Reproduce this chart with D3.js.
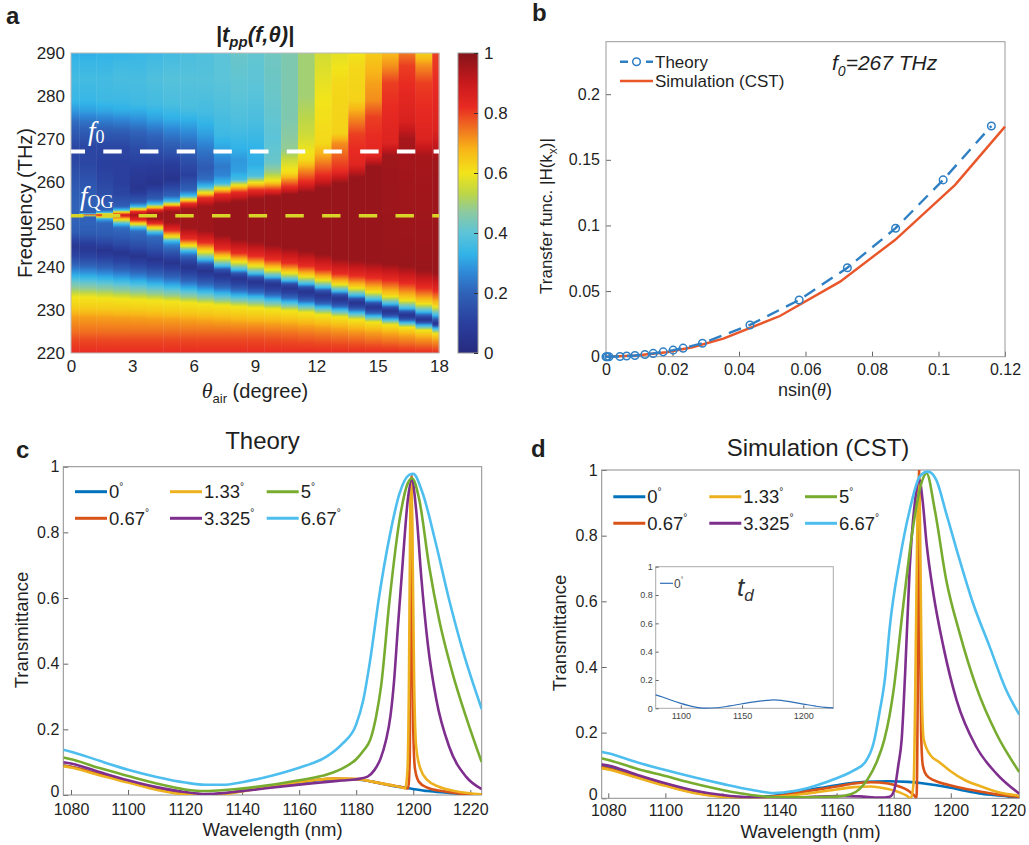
<!DOCTYPE html>
<meta charset="utf-8">
<title>Angle-dependent transmission</title>
<style>
body { margin: 0; background: #fff; }
text { font-family: "Liberation Sans", Arial, Helvetica, sans-serif; fill: #1f1f1f; }
</style>
<body>
<script src="https://cdnjs.cloudflare.com/ajax/libs/d3/7.8.5/d3.min.js"></script>
<script>
// ---------- panel a : |t_pp(f,theta)| ----------
var heatAngles = [0, 0.82, 1.64, 2.47, 3.29, 4.11, 4.93, 5.75, 6.58, 7.4, 8.22, 9.04,
                  9.86, 10.69, 11.51, 12.33, 13.15, 13.97, 14.8, 15.62, 16.44, 17.26, 18.08];
// one list of [frequency THz, |t|] read down each angle column
var heatProfiles = [
  [[220,.82],[223,.79],[225,.75],[228.5,.7],[230.5,.64],[233,.6],[234.7,.5],[236.5,.42],[238,.33],[240.2,.22],[242.5,.12],[244.8,.06],[246.5,.12],[248,.18],[250,.2],[254,.2],[258,.18],[262,.15],[265,.12],[268,.12],[271,.17],[274,.22],[276.5,.29],[279,.34],[284,.36],[288,.34],[290,.32]],
  [[220,.82],[223,.79],[225,.75],[228.5,.7],[230.5,.64],[233,.6],[234.6,.5],[236.3,.42],[237.8,.33],[240,.22],[242.3,.12],[244.5,.06],[246.2,.12],[247.8,.18],[250,.2],[251.8,.2],[252.2,.85],[252.6,.2],[256,.19],[260,.16],[264,.12],[268,.12],[271,.17],[274,.23],[276.5,.3],[279,.34],[284,.36],[288,.34],[290,.32]],
  [[220,.82],[223,.79],[225,.75],[228.4,.7],[230.4,.64],[232.8,.6],[234.4,.5],[236,.42],[237.5,.33],[239.6,.22],[241.8,.12],[244,.05],[245.7,.12],[247.5,.18],[250.4,.21],[251.3,.33],[252.2,.88],[252.8,.33],[253.4,.2],[256,.16],[260,.12],[264,.1],[268,.12],[271,.17],[274,.24],[276.5,.31],[279,.35],[284,.36],[288,.34],[290,.33]],
  [[220,.82],[223,.79],[225,.75],[228.3,.7],[230.3,.64],[232.6,.6],[234.1,.5],[235.7,.42],[237.1,.33],[239.1,.22],[241.2,.12],[243.3,.05],[245,.12],[247.2,.18],[249.2,.22],[250.1,.35],[251.1,.6],[252.2,.9],[252.9,.6],[253.4,.35],[254.2,.19],[257,.12],[260,.1],[264,.1],[268,.12],[271,.17],[274,.25],[276.5,.32],[279,.35],[284,.37],[288,.35],[290,.33]],
  [[220,.82],[223,.79],[225,.75],[228.2,.7],[230.2,.64],[232.4,.6],[233.8,.5],[235.3,.42],[236.7,.33],[238.6,.22],[240.6,.12],[242.6,.05],[244.3,.12],[246.5,.18],[248.4,.22],[249.2,.35],[250.1,.6],[251,.82],[252.2,.95],[253,.82],[253.6,.6],[254.2,.35],[255.2,.18],[258,.06],[261,.07],[264,.1],[268,.14],[271.5,.2],[275,.29],[278,.35],[283,.37],[288,.35],[290,.34]],
  [[220,.82],[223,.79],[225,.75],[228,.7],[230,.64],[232.2,.6],[233.5,.5],[234.9,.42],[236.2,.33],[238,.22],[240,.12],[241.8,.05],[243.5,.12],[245.5,.18],[247.2,.22],[248.1,.35],[249.1,.6],[250.2,.82],[251.3,.96],[252.6,.96],[253.4,.82],[254.1,.6],[254.8,.35],[256,.18],[259.5,.05],[263,.08],[267,.14],[271,.21],[274.5,.3],[278,.36],[284,.38],[290,.35]],
  [[220,.82],[223,.79],[225,.75],[227.9,.7],[229.8,.64],[232,.6],[233.2,.5],[234.5,.42],[235.7,.33],[237.4,.22],[239.3,.12],[241,.05],[242.6,.12],[244.2,.2],[245.2,.25],[246.1,.35],[247.1,.6],[248.6,.82],[250.5,.96],[253,.96],[254,.82],[254.7,.6],[255.5,.35],[256.7,.2],[260.5,.05],[264,.09],[267.5,.17],[271,.24],[274.5,.32],[278,.37],[284,.39],[290,.36]],
  [[220,.82],[223,.79],[225,.75],[227.7,.7],[229.6,.64],[231.7,.6],[232.8,.5],[234,.42],[235.1,.33],[236.6,.22],[238.4,.12],[240,.05],[241.5,.12],[242.8,.22],[243.8,.35],[245,.6],[246.6,.82],[249.2,.96],[253.6,.96],[254.9,.82],[255.8,.6],[256.7,.35],[258,.2],[261.5,.1],[265,.15],[269,.22],[273,.3],[277,.37],[284,.39],[290,.37]],
  [[220,.82],[223,.79],[225,.75],[227.5,.7],[229.4,.64],[231.4,.6],[232.4,.5],[233.5,.42],[234.5,.33],[235.9,.22],[237.6,.12],[239.1,.05],[240.5,.13],[241.8,.35],[243.8,.62],[245.8,.82],[248.5,.96],[254.2,.96],[256.2,.82],[257.3,.62],[258.8,.35],[260.5,.22],[263,.18],[267,.23],[271,.3],[276,.36],[283,.39],[290,.38]],
  [[220,.82],[223,.79],[225,.75],[227.3,.7],[229.2,.64],[231.1,.6],[232,.5],[233,.42],[234,.33],[235.2,.22],[236.8,.12],[238.2,.05],[239.4,.15],[240.3,.35],[242.3,.62],[244.2,.82],[247.5,.97],[254.8,.97],[257,.82],[258.3,.62],[259.6,.35],[261.5,.26],[263.5,.24],[267,.3],[271,.35],[278,.38],[284,.4],[290,.4]],
  [[220,.82],[223,.79],[225,.75],[227.1,.7],[229,.64],[230.8,.6],[231.7,.5],[232.6,.42],[233.5,.33],[234.6,.22],[236,.12],[237.3,.05],[238.5,.15],[239.4,.35],[241.4,.62],[243.3,.82],[246.5,.97],[255.3,.97],[257.5,.82],[259,.62],[260.5,.36],[262.5,.3],[265,.29],[268,.33],[273,.37],[280,.4],[290,.42]],
  [[220,.82],[223,.79],[225,.75],[227,.7],[228.8,.64],[230.5,.6],[231.4,.5],[232.3,.42],[233.2,.33],[234.1,.22],[235.3,.12],[236.6,.05],[237.6,.15],[238.5,.35],[240.5,.62],[242.6,.82],[246,.97],[256,.97],[258,.82],[259.6,.62],[261.3,.38],[264,.32],[268,.33],[274,.37],[282,.4],[290,.41]],
  [[220,.82],[222.8,.79],[224.8,.75],[226.8,.7],[228.6,.64],[230.2,.6],[231,.5],[231.8,.42],[232.6,.33],[233.5,.22],[234.6,.12],[235.9,.05],[236.9,.15],[237.7,.35],[239.6,.62],[241.8,.82],[245.2,.97],[256.5,.97],[258,.82],[259,.72],[260,.62],[262,.5],[264.5,.42],[270,.4],[280,.42],[290,.43]],
  [[220,.82],[222.6,.79],[224.6,.75],[226.6,.7],[228.3,.64],[229.8,.6],[230.6,.5],[231.3,.42],[232,.33],[232.8,.22],[233.9,.12],[235.1,.05],[236.1,.15],[236.9,.35],[238.8,.62],[241,.82],[244.5,.97],[257,.97],[258.8,.82],[260.4,.72],[261.9,.62],[265,.55],[267.4,.48],[275,.45],[290,.45]],
  [[220,.82],[222.4,.79],[224.3,.75],[226.3,.7],[228,.64],[229.4,.6],[230.1,.5],[230.8,.42],[231.4,.33],[232.1,.22],[233.1,.12],[234.3,.05],[235.3,.15],[236.1,.35],[238,.62],[240.3,.82],[243.8,.97],[257.5,.97],[260,.82],[262.7,.72],[265,.62],[271.3,.55],[280,.5],[290,.5]],
  [[220,.82],[222.2,.79],[224,.75],[226,.7],[227.6,.64],[228.9,.6],[229.6,.5],[230.2,.42],[230.8,.33],[231.4,.22],[232.3,.12],[233.5,.05],[234.5,.15],[235.3,.35],[237.2,.62],[239.5,.82],[243,.97],[258.5,.97],[261.5,.82],[265,.72],[268.9,.62],[279,.6],[290,.56]],
  [[220,.82],[222,.79],[223.7,.75],[225.6,.7],[227.2,.64],[228.4,.6],[229,.5],[229.6,.42],[230.2,.33],[230.8,.22],[231.6,.12],[232.7,.05],[233.6,.15],[234.4,.35],[236.2,.62],[238.5,.82],[242,.97],[259.6,.97],[262.5,.82],[268.9,.72],[271.3,.63],[283,.62],[290,.58]],
  [[220,.82],[221.8,.79],[223.4,.75],[225.2,.7],[226.7,.64],[227.8,.6],[228.4,.5],[229,.42],[229.5,.33],[230.1,.22],[230.8,.12],[231.7,.05],[232.6,.15],[233.4,.35],[235.3,.62],[238,.82],[241.6,.97],[261,.97],[264,.84],[271,.8],[275,.72],[279,.63],[287,.62],[290,.6]],
  [[220,.82],[221.6,.79],[223,.75],[224.8,.7],[226.2,.64],[227.2,.6],[227.7,.5],[228.2,.42],[228.7,.33],[229.2,.22],[229.9,.12],[230.7,.05],[231.6,.15],[232.4,.35],[234.4,.62],[237.5,.82],[241.2,.97],[263.5,.97],[266,.84],[275,.8],[279,.72],[283,.7],[290,.64]],
  [[220,.82],[221.4,.79],[222.7,.75],[224.4,.7],[225.7,.64],[226.6,.6],[227.1,.5],[227.5,.42],[227.9,.33],[228.4,.22],[229,.12],[229.8,.05],[230.6,.15],[231.4,.35],[233.4,.62],[237,.82],[240.8,.97],[266,.96],[269,.85],[283,.8],[286.8,.72],[290,.67]],
  [[220,.82],[221.2,.79],[222.4,.75],[224,.7],[225.2,.64],[226,.6],[226.4,.5],[226.8,.42],[227.2,.33],[227.6,.22],[228.1,.12],[228.8,.05],[229.6,.15],[230.4,.35],[232.5,.62],[236.3,.82],[240.2,.97],[270,.95],[274,.86],[287,.8],[290,.74]],
  [[220,.82],[221,.79],[222.1,.75],[223.5,.7],[224.6,.64],[225.3,.6],[225.7,.5],[226.1,.42],[226.5,.33],[226.9,.22],[227.3,.12],[227.8,.05],[228.6,.15],[229.6,.35],[231.7,.62],[235.2,.82],[239.3,.97],[266,.95],[270,.85],[283,.8],[287,.72],[290,.63]],
  [[220,.82],[220.8,.79],[221.8,.75],[223,.7],[224,.64],[224.6,.6],[225,.5],[225.4,.42],[225.8,.33],[226.2,.22],[226.5,.12],[226.9,.05],[227.7,.15],[228.8,.35],[231,.62],[234.5,.82],[238.8,.97],[265,.96],[272,.85],[290,.8]]
];
var freqTicks = [220, 230, 240, 250, 260, 270, 280, 290];
var angleTicks = [0, 3, 6, 9, 12, 15, 18];
var cbarTicks = [0, 0.2, 0.4, 0.6, 0.8, 1];
var cmapStops = [0, 0.1, 0.2, 0.27, 0.33, 0.4, 0.47, 0.53, 0.6, 0.68, 0.75, 0.82, 0.9, 1];
var cmapColors = ["#262a7e", "#2a3f9e", "#2f62b8", "#2f8ad8", "#32b4e8", "#5cc4d8", "#8ccaa0",
                  "#bcd648", "#f2e41a", "#f8b418", "#f07020", "#e82a22", "#c8191c", "#84141a"];
var f0 = 267, fQG = 252;

// ---------- panel b : transfer function ----------
var nsinTheory = [0, 0.0004, 0.0009, 0.0042, 0.0062, 0.0087, 0.0117, 0.0142, 0.0172, 0.0202, 0.0232, 0.029, 0.0433, 0.0581, 0.0726, 0.0871, 0.1014, 0.1159];
var hTheory    = [0, 0, 0, 0.0002, 0.0005, 0.0009, 0.0017, 0.0025, 0.0037, 0.005, 0.0065, 0.0103, 0.0242, 0.0432, 0.0678, 0.0979, 0.1347, 0.1758];
var nsinSim = [0, 0.009, 0.0182, 0.026, 0.0353, 0.0523, 0.0704, 0.0869, 0.105, 0.12];
var hSim    = [0, 0.0009, 0.0034, 0.0072, 0.0138, 0.031, 0.0572, 0.0889, 0.1309, 0.1753];
var nsinTicks = [0, 0.02, 0.04, 0.06, 0.08, 0.1, 0.12];
var hTicks = [0, 0.05, 0.1, 0.15, 0.2];

// ---------- panels c, d : transmittance spectra ----------
var angleLabels = ["0", "0.67", "1.33", "3.325", "5", "6.67"];
var angleColors = ["#0072bd", "#d95319", "#edb120", "#7e2f8e", "#77ac30", "#4dbeee"];
var wlTicks = [1080, 1100, 1120, 1140, 1160, 1180, 1200, 1220];
var transTicks = [0, 0.2, 0.4, 0.6, 0.8, 1];

var theory0 = [[1077.3,.09],[1080,.086],[1090,.063],[1100,.041],[1110,.019],[1120,.005],[1127,.001],[1135,.006],[1145,.02],[1155,.033],[1165,.043],[1172,.048],[1180,.047],[1186,.04],[1192,.029],[1199,.02],[1205,.012],[1212,.007],[1218,.003],[1224,.001]];
var theory067 = [[1077.3,.09],[1080,.086],[1090,.063],[1100,.041],[1110,.019],[1120,.005],[1127,.001],[1135,.006],[1145,.02],[1155,.034],[1165,.045],[1172,.05],[1180,.048],[1186,.04],[1192,.03],[1196,.024],[1198.2,.02],[1198.8,.12],[1199.2,.7],[1199.4,.97],[1199.6,.7],[1200,.2],[1200.6,.08],[1202,.04],[1205,.022],[1210,.012],[1216,.005],[1224,.001]];
var theory133 = [[1077.3,.088],[1080,.084],[1090,.06],[1100,.038],[1110,.016],[1120,.002],[1127,0],[1135,.004],[1145,.018],[1155,.033],[1165,.045],[1172,.05],[1180,.049],[1186,.04],[1192,.03],[1196,.023],[1197.2,.02],[1198,.08],[1198.5,.35],[1199,.9],[1199.3,.95],[1199.7,.8],[1200.3,.35],[1201,.15],[1202.5,.08],[1205,.045],[1209,.025],[1214,.013],[1219,.006],[1224,.002]];
var theory3325 = [[1077.3,.1],[1080,.096],[1090,.07],[1100,.045],[1110,.024],[1120,.009],[1127,.003],[1135,.007],[1145,.017],[1155,.027],[1165,.036],[1175,.044],[1180,.048],[1184,.056],[1186.3,.075],[1188.5,.11],[1190.4,.165],[1192,.24],[1193.3,.35],[1194.6,.51],[1196.4,.72],[1198.1,.9],[1199.5,.96],[1201,.87],[1202.8,.665],[1205.1,.46],[1208.1,.29],[1212.6,.147],[1218.5,.056],[1224,.018]];
var theory5 = [[1077.3,.114],[1080,.109],[1090,.082],[1100,.058],[1110,.035],[1120,.017],[1127,.012],[1135,.016],[1145,.025],[1160,.045],[1170,.063],[1176,.085],[1180,.109],[1182.5,.135],[1185,.17],[1187,.24],[1188.7,.33],[1191.7,.594],[1195.2,.838],[1198.1,.95],[1199.6,.965],[1202.1,.9],[1205.6,.695],[1209.1,.533],[1213.8,.37],[1218.5,.238],[1224,.1]];
var theory667 = [[1077.3,.138],[1080,.132],[1090,.104],[1100,.077],[1110,.055],[1120,.038],[1127,.031],[1133,.031],[1140,.039],[1150,.058],[1160,.083],[1170,.119],[1175,.155],[1180,.215],[1182.5,.29],[1184.7,.4],[1188.2,.614],[1191.7,.787],[1195.2,.919],[1198.6,.975],[1200,.978],[1203.3,.919],[1207.9,.767],[1212.6,.594],[1217.3,.442],[1224,.262]];

var sim0 = [[1077.5,.098],[1080,.094],[1090,.068],[1100,.041],[1110,.02],[1120,.007],[1128,.002],[1135,.005],[1140,.01],[1150,.025],[1160,.04],[1170,.05],[1178,.052],[1185,.05],[1190,.046],[1195,.04],[1200,.032],[1205,.023],[1210,.015],[1215,.01],[1220,.006],[1224,.004]];
var sim067 = [[1077.5,.095],[1080,.091],[1090,.065],[1100,.04],[1110,.018],[1120,.006],[1130,.001],[1140,.008],[1150,.022],[1160,.036],[1166,.045],[1172,.049],[1178,.045],[1182,.036],[1185,.024],[1187,.01],[1188,.002],[1188.4,.3],[1188.7,.8],[1188.9,1],[1189.2,.6],[1189.6,.2],[1190.2,.1],[1191.5,.07],[1194,.055],[1199,.041],[1205,.029],[1210.6,.02],[1216,.012],[1224,.005]];
var sim133 = [[1077.5,.092],[1080,.088],[1090,.063],[1100,.038],[1110,.016],[1120,.004],[1130,0],[1140,.005],[1150,.015],[1160,.027],[1166,.034],[1172,.036],[1178,.028],[1182,.018],[1184.5,.008],[1186,0],[1187,.05],[1187.8,.5],[1188.4,.9],[1188.9,.98],[1189.4,.7],[1189.9,.3],[1190.5,.18],[1193,.13],[1196,.11],[1199.7,.084],[1205,.055],[1210.6,.036],[1216,.02],[1224,.008]];
var sim3325 = [[1077.5,.104],[1080,.1],[1090,.072],[1100,.046],[1110,.024],[1120,.01],[1130,.003],[1140,.002],[1150,.004],[1160,.007],[1168,.006],[1175,.002],[1178.6,.005],[1180.2,.025],[1181.6,.1],[1182.8,.18],[1184,.38],[1185.6,.7],[1187.4,.9],[1189,.97],[1190.1,.909],[1191.5,.777],[1193.9,.624],[1197.4,.462],[1202,.3],[1208.9,.157],[1215.9,.076],[1224,.014]];
var sim5 = [[1077.5,.122],[1080,.117],[1090,.09],[1100,.068],[1110,.045],[1120,.025],[1130,.01],[1140,.003],[1150,.003],[1160,.005],[1165,.012],[1168,.028],[1171,.06],[1174,.11],[1176.7,.178],[1178.5,.25],[1179.8,.32],[1183.3,.584],[1186.8,.827],[1189.7,.96],[1191.5,.99],[1194.4,.878],[1198.4,.665],[1203.1,.503],[1208.9,.34],[1215.9,.198],[1224,.08]];
var sim667 = [[1077.5,.142],[1080,.137],[1090,.11],[1100,.086],[1110,.064],[1120,.044],[1130,.026],[1138,.016],[1145,.022],[1152,.037],[1160,.061],[1166,.085],[1170,.11],[1173,.17],[1175,.26],[1177,.37],[1178.6,.52],[1182.1,.726],[1185.6,.878],[1189.1,.98],[1192,.995],[1194.9,.97],[1198.4,.868],[1203.1,.726],[1207.8,.594],[1213.6,.462],[1219.4,.33],[1224,.255]];
var simDirect0 = [[1079.5,.095],[1085,.08],[1090,.064],[1100,.035],[1110,.012],[1120,.001],[1130,.004],[1140,.017],[1150,.032],[1160,.046],[1170,.056],[1176,.059],[1182,.056],[1190,.045],[1200,.03],[1210,.015],[1218,.006],[1224.5,.003]];
var insetXTicks = [1100, 1150, 1200];

var svg = d3.select("body").append("svg").attr("width", 1029).attr("height", 845);
var defs = svg.append("defs");
var cmap = d3.scaleLinear().domain(cmapStops).range(cmapColors).clamp(true);

function panelLabel(t, x, y) {
  svg.append("text").attr("x", x).attr("y", y).attr("font-size", 24).attr("font-weight", "bold").text(t);
}
function styleAxis(g, fs) {
  g.select(".domain").remove();
  g.selectAll(".tick line").attr("stroke", "#666");
  g.selectAll(".tick text").attr("font-size", fs);
}

// ===== panel a =====
var ax = d3.scaleLinear().domain([0, 18]).range([71, 439]);
var ay = d3.scaleLinear().domain([220, 290]).range([353, 53]);
var heat = svg.append("g");
heatProfiles.forEach(function(prof, i) {
  var s = d3.scaleLinear().domain(prof.map(function(d) { return d[0]; })).range(prof.map(function(d) { return d[1]; }));
  var grad = defs.append("linearGradient").attr("id", "hc" + i)
      .attr("gradientUnits", "userSpaceOnUse").attr("x1", 0).attr("x2", 0).attr("y1", ay(220)).attr("y2", ay(290));
  grad.selectAll("stop").data(d3.range(220, 290.001, 0.25)).enter().append("stop")
      .attr("offset", function(f) { return (f - 220) / 70; })
      .attr("stop-color", function(f) { return cmap(s(f)); });
  var a = heatAngles[i];
  var lo = i === 0 ? a : (heatAngles[i - 1] + a) / 2;
  var hi = i === heatAngles.length - 1 ? a : (a + heatAngles[i + 1]) / 2;
  lo = Math.max(0, lo); hi = Math.min(18, hi);
  heat.append("rect").attr("x", ax(lo)).attr("width", ax(hi) - ax(lo) + 0.4)
      .attr("y", ay(290)).attr("height", ay(220) - ay(290)).attr("fill", "url(#hc" + i + ")");
});
svg.append("rect").attr("x", 71).attr("y", 53).attr("width", 368).attr("height", 300)
    .attr("fill", "none").attr("stroke", "#bbb");
svg.append("line").attr("x1", ax(0)).attr("x2", ax(18)).attr("y1", ay(f0)).attr("y2", ay(f0))
    .attr("stroke", "#fff").attr("stroke-width", 4).attr("stroke-dasharray", "18.4,18.3").attr("stroke-dashoffset", 4.4);
svg.append("line").attr("x1", ax(0)).attr("x2", ax(18)).attr("y1", ay(fQG)).attr("y2", ay(fQG))
    .attr("stroke", "#d9d428").attr("stroke-width", 3.5).attr("stroke-dasharray", "18.4,18.3").attr("stroke-dashoffset", 5.8);
var fl = svg.append("text").attr("x", 88).attr("y", 140).style("font-family", "'Liberation Serif', serif").style("fill", "#fff");
fl.append("tspan").attr("font-size", 27).attr("font-style", "italic").text("f");
fl.append("tspan").attr("font-size", 18).attr("dy", 3).text("0");
var fq = svg.append("text").attr("x", 80).attr("y", 205).style("font-family", "'Liberation Serif', serif").style("fill", "#fff");
fq.append("tspan").attr("font-size", 27).attr("font-style", "italic").text("f");
fq.append("tspan").attr("font-size", 18).attr("dy", 3).text("QG");

var gay = svg.append("g").attr("transform", "translate(71,0)")
    .call(d3.axisLeft(ay).tickValues(freqTicks).tickSize(0).tickPadding(6));
styleAxis(gay, 17);
var gax = svg.append("g").attr("transform", "translate(0,353)")
    .call(d3.axisBottom(ax).tickValues(angleTicks).tickSize(0).tickPadding(7));
styleAxis(gax, 17);
svg.append("text").attr("transform", "translate(32,203) rotate(-90)").attr("text-anchor", "middle")
    .attr("font-size", 20).text("Frequency (THz)");
var xl = svg.append("text").attr("x", 255).attr("y", 398).attr("text-anchor", "middle").attr("font-size", 20);
xl.append("tspan").style("font-family", "'Liberation Serif', serif").attr("font-style", "italic").attr("font-size", 22).text("θ");
xl.append("tspan").attr("font-size", 13).attr("dy", 5).text("air");
xl.append("tspan").attr("dy", -5).text(" (degree)");
var ttl = svg.append("text").attr("x", 255).attr("y", 42).attr("text-anchor", "middle")
    .attr("font-size", 22).attr("font-weight", "bold").attr("font-style", "italic");
ttl.append("tspan").text("|t");
ttl.append("tspan").attr("font-size", 15).attr("dy", 5).text("pp");
ttl.append("tspan").attr("dy", -5).text("(f,θ)|");

// colorbar
var cy = d3.scaleLinear().domain([0, 1]).range([353, 53]);
var cg = defs.append("linearGradient").attr("id", "cbar").attr("x1", 0).attr("x2", 0).attr("y1", 1).attr("y2", 0);
cg.selectAll("stop").data(cmapStops).enter().append("stop")
    .attr("offset", function(d) { return d; }).attr("stop-color", function(d, i) { return cmapColors[i]; });
svg.append("rect").attr("x", 458).attr("y", 53).attr("width", 20).attr("height", 300)
    .attr("fill", "url(#cbar)").attr("stroke", "#999");
var gcb = svg.append("g").attr("transform", "translate(478,0)")
    .call(d3.axisRight(cy).tickValues(cbarTicks).tickFormat(d3.format("~g")).tickSizeInner(-4).tickSizeOuter(0).tickPadding(6));
styleAxis(gcb, 17);
gcb.selectAll(".tick line").attr("stroke", "#333");
panelLabel("a", 6, 24);

// ===== panel b =====
var bx = d3.scaleLinear().domain([0, 0.12]).range([606, 1005]);
var by = d3.scaleLinear().domain([0, 0.24]).range([356.7, 41.7]);
var gbx = svg.append("g").attr("transform", "translate(0,356.7)")
    .call(d3.axisBottom(bx).tickValues(nsinTicks).tickFormat(d3.format("~g")).tickSizeInner(-5).tickSizeOuter(0).tickPadding(7));
styleAxis(gbx, 16);
var gby = svg.append("g").attr("transform", "translate(606,0)")
    .call(d3.axisLeft(by).tickValues(hTicks).tickFormat(d3.format("~g")).tickSizeInner(-5).tickSizeOuter(0).tickPadding(6));
styleAxis(gby, 16);
svg.append("rect").attr("x", 606).attr("y", 41.7).attr("width", 399).attr("height", 315)
    .attr("fill", "none").attr("stroke", "#999");
var simPts = nsinSim.map(function(v, i) { return [v, hSim[i]]; });
var thPts = nsinTheory.map(function(v, i) { return [v, hTheory[i]]; });
var bline = d3.line().x(function(d) { return bx(d[0]); }).y(function(d) { return by(d[1]); });
svg.append("path").attr("d", bline(simPts)).attr("fill", "none").attr("stroke", "#e8562a").attr("stroke-width", 2.4);
svg.append("path").attr("d", bline(thPts)).attr("fill", "none").attr("stroke", "#2f7fc4")
    .attr("stroke-width", 2.4).attr("stroke-dasharray", "13,8");
svg.append("g").selectAll("circle").data(thPts).enter().append("circle")
    .attr("cx", function(d) { return bx(d[0]); }).attr("cy", function(d) { return by(d[1]); }).attr("r", 3.8)
    .attr("fill", "none").attr("stroke", "#2f7fc4").attr("stroke-width", 1.5);
svg.append("line").attr("x1", 620).attr("x2", 653).attr("y1", 61.7).attr("y2", 61.7)
    .attr("stroke", "#2f7fc4").attr("stroke-width", 2.4).attr("stroke-dasharray", "8,5");
svg.append("circle").attr("cx", 636.5).attr("cy", 61.7).attr("r", 3.8).attr("fill", "#fff").attr("stroke", "#2f7fc4").attr("stroke-width", 1.5);
svg.append("text").attr("x", 655).attr("y", 67.7).attr("font-size", 17).text("Theory");
svg.append("line").attr("x1", 620).attr("x2", 653).attr("y1", 81).attr("y2", 81).attr("stroke", "#e8562a").attr("stroke-width", 2.4);
svg.append("text").attr("x", 655).attr("y", 87).attr("font-size", 17).text("Simulation (CST)");
var fz = svg.append("text").attr("x", 832).attr("y", 70).attr("font-size", 21).attr("font-style", "italic");
fz.append("tspan").text("f");
fz.append("tspan").attr("font-size", 14).attr("dy", 6).text("0");
fz.append("tspan").attr("dy", -6).text("=267 THz");
var byl = svg.append("text").attr("transform", "translate(552,216) rotate(-90)").attr("text-anchor", "middle").attr("font-size", 17);
byl.append("tspan").text("Transfer func. |H(k");
byl.append("tspan").attr("font-size", 12).attr("dy", 5).text("x");
byl.append("tspan").attr("dy", -5).text(")|");
var bxl = svg.append("text").attr("x", 805).attr("y", 396).attr("text-anchor", "middle").attr("font-size", 18);
bxl.append("tspan").text("nsin(");
bxl.append("tspan").style("font-family", "'Liberation Serif', serif").attr("font-style", "italic").text("θ");
bxl.append("tspan").text(")");
panelLabel("b", 532, 21);

// ===== panels c, d =====
function degLabel(t, lab, fs) {
  t.append("tspan").text(lab);
  t.append("tspan").attr("font-size", fs * 0.55).attr("dy", -fs * 0.45).text("°");
}
function spectra(p) {
  var x = d3.scaleLinear().domain(p.wl).range([p.l, p.r]);
  var y = d3.scaleLinear().domain([0, 1]).range([p.b, p.t]);
  defs.append("clipPath").attr("id", p.id).append("rect")
      .attr("x", p.l).attr("y", p.t).attr("width", p.r - p.l).attr("height", p.b - p.t);
  var g = svg.append("g");
  var gx = g.append("g").attr("transform", "translate(0," + p.b + ")")
      .call(d3.axisBottom(x).tickValues(wlTicks).tickFormat(d3.format("d")).tickSizeInner(-5).tickSizeOuter(0).tickPadding(p.tp));
  styleAxis(gx, 16);
  var gy = g.append("g").attr("transform", "translate(" + p.l + ",0)")
      .call(d3.axisLeft(y).tickValues(transTicks).tickFormat(d3.format("~g")).tickSizeInner(-5).tickSizeOuter(0).tickPadding(4));
  styleAxis(gy, 16);
  // keep the "0" clear of the first wavelength label
  gy.selectAll(".tick text").filter(function(d) { return d === 0; }).attr("y", -4);
  g.append("rect").attr("x", p.l).attr("y", p.t).attr("width", p.r - p.l).attr("height", p.b - p.t)
      .attr("fill", "none").attr("stroke", "#8c8c8c");
  var line = d3.line().x(function(d) { return x(d[0]); }).y(function(d) { return y(d[1]); }).curve(d3.curveMonotoneX);
  g.append("g").attr("clip-path", "url(#" + p.id + ")").selectAll("path").data(p.series).enter().append("path")
      .attr("d", line).attr("fill", "none").attr("stroke", function(d, i) { return angleColors[i]; })
      .attr("stroke-width", 2.6);
  angleLabels.forEach(function(lab, i) {
    var lx = p.legX[Math.floor(i / 2)], ly = p.legY[i % 2];
    g.append("line").attr("x1", lx).attr("x2", lx + 32).attr("y1", ly).attr("y2", ly)
        .attr("stroke", angleColors[i]).attr("stroke-width", 3);
    degLabel(g.append("text").attr("x", lx + 34).attr("y", ly + 6.5).attr("font-size", 18.5), lab, 18.5);
  });
  g.append("text").attr("x", p.titleX).attr("y", p.titleY).attr("text-anchor", "middle").attr("font-size", 24).text(p.title);
  g.append("text").attr("x", (p.l + p.r) / 2).attr("y", p.b + p.xlOff).attr("text-anchor", "middle")
      .attr("font-size", 18.5).text("Wavelength (nm)");
  g.append("text").attr("transform", "translate(" + p.yl[0] + "," + p.yl[1] + ") rotate(-90)")
      .attr("text-anchor", "middle").attr("font-size", 18.5).text("Transmittance");
}
spectra({ id: "clipc", wl: [1077.3, 1224], l: 63.3, r: 481.7, t: 466.7, b: 795, tp: 8.2, xlOff: 40.5,
  series: [theory0, theory067, theory133, theory3325, theory5, theory667],
  legX: [75, 170, 266.7], legY: [491.7, 518.3], title: "Theory", titleX: 262.5, titleY: 449, yl: [28, 630] });
spectra({ id: "clipd", wl: [1077.7, 1224], l: 601.7, r: 1019.3, t: 470, b: 798.3, tp: 6.2, xlOff: 39.2,
  series: [sim0, sim067, sim133, sim3325, sim5, sim667],
  legX: [613.3, 709.3, 805], legY: [496.7, 523.3], title: "Simulation (CST)", titleX: 818, titleY: 456, yl: [566, 633] });
panelLabel("c", 16, 458);
panelLabel("d", 531, 457);

// inset: direct transmission t_d at normal incidence
var ix = d3.scaleLinear().domain([1079.5, 1224.5]).range([655.7, 833.3]);
var iy = d3.scaleLinear().domain([0, 1]).range([708.3, 566.7]);
svg.append("rect").attr("x", 655.7).attr("y", 566.7).attr("width", 177.6).attr("height", 141.6)
    .attr("fill", "#fff").attr("stroke", "#aaa");
var gix = svg.append("g").attr("transform", "translate(0,708.3)")
    .call(d3.axisBottom(ix).tickValues(insetXTicks).tickFormat(d3.format("d")).tickSizeInner(-3).tickSizeOuter(0).tickPadding(4));
styleAxis(gix, 9);
var giy = svg.append("g").attr("transform", "translate(655.7,0)")
    .call(d3.axisLeft(iy).tickValues(transTicks).tickFormat(d3.format("~g")).tickSizeInner(-3).tickSizeOuter(0).tickPadding(3));
styleAxis(giy, 9);
gix.selectAll(".tick text").style("fill", "#444");
giy.selectAll(".tick text").style("fill", "#444");
svg.append("path").attr("d", d3.line().x(function(d) { return ix(d[0]); }).y(function(d) { return iy(d[1]); })
    .curve(d3.curveMonotoneX)(simDirect0)).attr("fill", "none").attr("stroke", "#2f6fb8").attr("stroke-width", 1.2);
svg.append("line").attr("x1", 660).attr("x2", 673).attr("y1", 583.3).attr("y2", 583.3).attr("stroke", "#2f6fb8").attr("stroke-width", 1.2);
degLabel(svg.append("text").attr("x", 674).attr("y", 587.5).attr("font-size", 12).style("fill", "#444"), "0", 12);
var td = svg.append("text").attr("x", 737).attr("y", 596).style("fill", "#333");
td.append("tspan").attr("font-size", 26).attr("font-style", "italic").text("t");
td.append("tspan").attr("font-size", 17).attr("font-style", "italic").attr("dy", 5).text("d");
</script>
